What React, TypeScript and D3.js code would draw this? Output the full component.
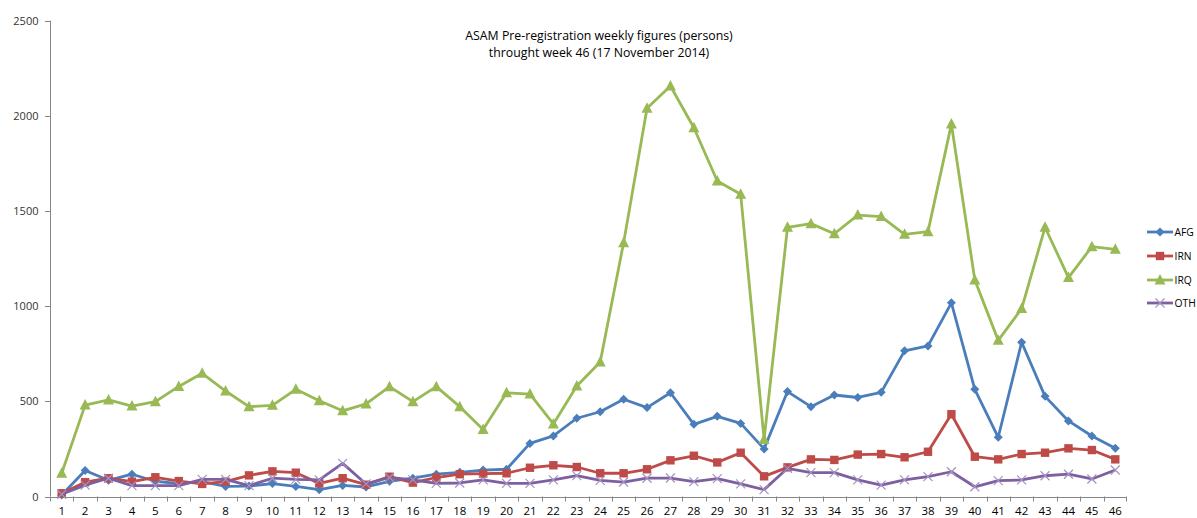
import React from "react";
import * as d3 from "d3";

const weeks = Array.from({ length: 46 }, (_, i) => String(i + 1));

const AFG = [8, 137, 85, 117, 80, 68, 78, 53, 55, 68, 53, 36, 58, 50, 80, 96, 117, 127, 139, 143, 279, 318, 411, 445, 511, 467, 545, 379, 421, 384, 250, 551, 472, 533, 520, 547, 765, 791, 1017, 563, 311, 810, 526, 397, 318, 253];
const IRN = [17, 75, 96, 78, 101, 81, 66, 78, 111, 132, 125, 69, 96, 62, 104, 73, 99, 117, 120, 122, 151, 164, 155, 122, 122, 143, 190, 214, 179, 230, 106, 153, 195, 192, 220, 223, 206, 235, 432, 209, 195, 223, 230, 253, 244, 195];
const IRQ = [122, 480, 507, 475, 498, 578, 647, 554, 472, 479, 563, 503, 450, 486, 577, 498, 577, 472, 352, 545, 538, 381, 580, 706, 1333, 2039, 2156, 1937, 1657, 1587, 300, 1414, 1433, 1380, 1478, 1470, 1377, 1391, 1956, 1137, 820, 987, 1414, 1150, 1312, 1298];
const OTH = [12, 60, 96, 57, 57, 57, 90, 90, 57, 96, 90, 87, 174, 66, 100, 87, 69, 71, 87, 69, 69, 87, 110, 85, 76, 96, 97, 78, 94, 66, 36, 148, 125, 125, 87, 60, 87, 104, 130, 51, 83, 87, 109, 117, 92, 139];

const yTicks = [0, 500, 1000, 1500, 2000, 2500];
const titleLines = ["ASAM Pre-registration weekly figures (persons)", "throught week 46 (17 November  2014)"];

const seriesList = [
  { name: "AFG", values: AFG, color: "#4A7EBB", marker: "diamond" },
  { name: "IRN", values: IRN, color: "#BE4B48", marker: "square" },
  { name: "IRQ", values: IRQ, color: "#98B954", marker: "triangle" },
  { name: "OTH", values: OTH, color: "#7D60A0", marker: "x" },
];

const W = 1197;
const H = 518;
const FONT = "'Open Sans', 'Liberation Sans', sans-serif";

function Marker({ type, x, y, color }: { type: string; x: number; y: number; color: string }) {
  if (type === "diamond") {
    const s = 4.5;
    return <path d={`M${x},${y - s}L${x + s},${y}L${x},${y + s}L${x - s},${y}Z`} fill={color} />;
  }
  if (type === "square") {
    const s = 4.2;
    return <rect x={x - s} y={y - s} width={2 * s} height={2 * s} fill={color} />;
  }
  if (type === "triangle") {
    const s = 5;
    return <path d={`M${x},${y - s - 1}L${x + s + 0.5},${y + s - 0.5}L${x - s - 0.5},${y + s - 0.5}Z`} fill={color} />;
  }
  const s = 4.5;
  return (
    <path
      d={`M${x - s},${y - s}L${x + s},${y + s}M${x - s},${y + s}L${x + s},${y - s}`}
      stroke="#A593C2"
      strokeWidth={1.2}
      fill="none"
    />
  );
}

export default function App() {
  const x = d3.scaleBand<string>().domain(weeks).range([50, 1127]);
  const y = d3.scaleLinear().domain([0, 2500]).range([496.5, 20.5]);
  const cx = (w: string) => (x(w) as number) + x.bandwidth() / 2;
  const line = d3
    .line<number>()
    .x((_, i) => cx(weeks[i]))
    .y((d) => y(d));

  const legendY = [232, 256, 280, 303];

  return (
    <svg width={W} height={H} style={{ position: "absolute", left: 0, top: 0, background: "#fff" }} fontFamily={FONT}>
      <rect width={W} height={H} fill="#fff" />
      {titleLines.map((t, i) => (
        <text key={i} x={599} y={40 + i * 16.5} textAnchor="middle" fontSize={12.3} fill="#000">
          {t}
        </text>
      ))}
      <line x1={50.5} x2={50.5} y1={y(2500)} y2={y(0)} stroke="#868686" strokeWidth={1} />
      {yTicks.map((t) => (
        <g key={t}>
          <line x1={45} x2={50.5} y1={Math.round(y(t)) + 0.5} y2={Math.round(y(t)) + 0.5} stroke="#868686" />
          <text x={38.5} y={y(t) + 4} textAnchor="end" fontSize={11} fill="#333">
            {t}
          </text>
        </g>
      ))}
      <line x1={50} x2={1127} y1={Math.round(y(0)) + 0.5} y2={Math.round(y(0)) + 0.5} stroke="#868686" />
      {weeks.map((w) => (
        <line
          key={"t" + w}
          x1={Math.round(x(w) as number) + 0.5}
          x2={Math.round(x(w) as number) + 0.5}
          y1={y(0)}
          y2={y(0) + 5}
          stroke="#868686"
        />
      ))}
      <line x1={1126.5} x2={1126.5} y1={y(0)} y2={y(0) + 5} stroke="#868686" />
      {weeks.map((w) => (
        <text key={"l" + w} x={cx(w)} y={515} textAnchor="middle" fontSize={11.5} fill="#000">
          {w}
        </text>
      ))}
      {seriesList.map((s) => (
        <g key={s.name}>
          <path d={line(s.values) as string} fill="none" stroke={s.color} strokeWidth={2.8} strokeLinejoin="round" />
          {s.values.map((v, i) => (
            <Marker key={i} type={s.marker} x={cx(weeks[i])} y={y(v)} color={s.color} />
          ))}
        </g>
      ))}
      {seriesList.map((s, i) => (
        <g key={"lg" + s.name}>
          <line x1={1147} x2={1173} y1={legendY[i]} y2={legendY[i]} stroke={s.color} strokeWidth={2.8} />
          <Marker type={s.marker} x={1160} y={legendY[i]} color={s.color} />
          <text x={1174.5} y={legendY[i] + 4} fontSize={10.3} fill="#000">
            {s.name}
          </text>
        </g>
      ))}
    </svg>
  );
}
